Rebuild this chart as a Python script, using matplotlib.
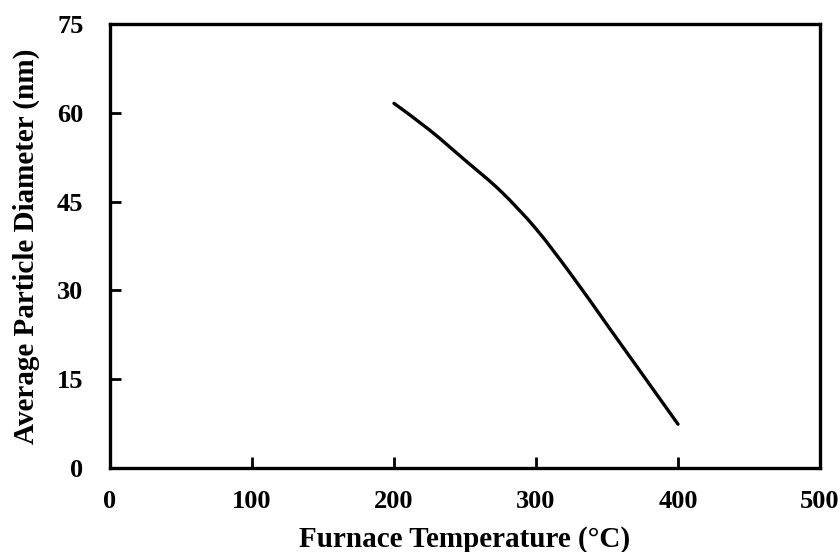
import matplotlib
matplotlib.use("Agg")
import matplotlib.pyplot as plt
from matplotlib.path import Path
from matplotlib.patches import PathPatch

temperature = [200, 225, 250, 275, 300, 325, 350, 375, 400]
diameter = [61.6, 57.1, 52.0, 46.8, 40.4, 32.6, 24.2, 15.8, 7.4]
x_ticks = [0, 100, 200, 300, 400, 500]
y_ticks = [0, 15, 30, 45, 60, 75]

plt.rcParams['font.family'] = ['Liberation Serif', 'DejaVu Serif']
plt.rcParams['font.weight'] = 'bold'

fig = plt.figure(figsize=(8.4, 5.52), dpi=100)
ax = fig.add_axes([110/840, 1 - 468/552, 710/840, 444/552])

# smooth line through data points (Catmull-Rom as cubic Bezier segments)
pts = list(zip(temperature, diameter))
verts = [pts[0]]
codes = [Path.MOVETO]
n = len(pts)
for i in range(n - 1):
    p0 = pts[i - 1] if i > 0 else pts[i]
    p1 = pts[i]
    p2 = pts[i + 1]
    p3 = pts[i + 2] if i + 2 < n else pts[i + 1]
    c1 = (p1[0] + (p2[0] - p0[0]) / 6, p1[1] + (p2[1] - p0[1]) / 6)
    c2 = (p2[0] - (p3[0] - p1[0]) / 6, p2[1] - (p3[1] - p1[1]) / 6)
    verts += [c1, c2, p2]
    codes += [Path.CURVE4] * 3
ax.add_patch(PathPatch(Path(verts, codes), facecolor='none', edgecolor='black',
                       linewidth=2.4, capstyle='round'))

ax.set_xlim(0, 500)
ax.set_ylim(0, 75)
ax.set_xticks(x_ticks)
ax.set_yticks(y_ticks)
for s in ax.spines.values():
    s.set_linewidth(2.4)
ax.tick_params(direction='in', length=8, width=2, labelsize=19)
ax.tick_params(axis='x', pad=16)
ax.tick_params(axis='y', pad=19)
ax.set_xlabel('Furnace Temperature (°C)', fontsize=21, fontweight='bold', labelpad=9)
ax.set_ylabel('Average Particle Diameter (nm)', fontsize=21, fontweight='bold', labelpad=12)
fig.savefig('out.png', dpi=100)
